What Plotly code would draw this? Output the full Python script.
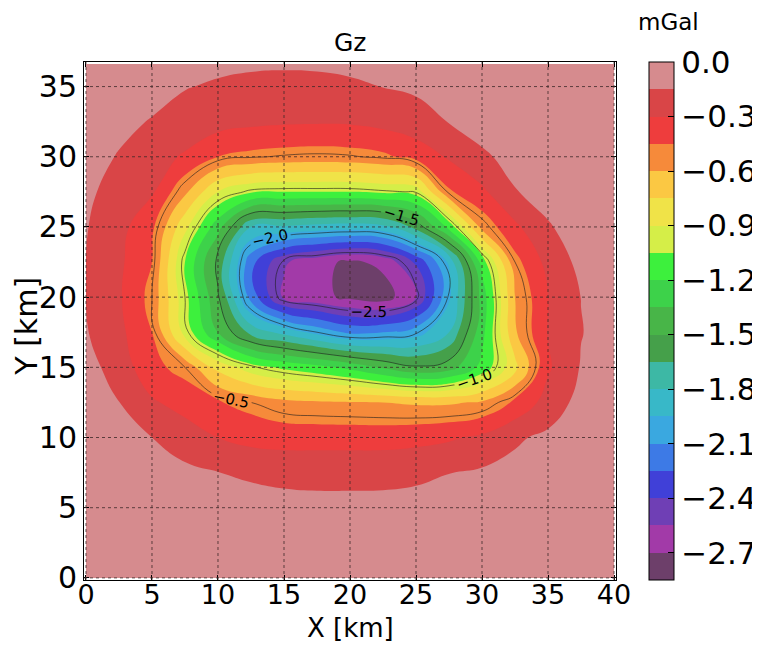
import plotly.graph_objects as go

# ---------------- data ----------------
x_km = [0, 2.5, 5, 7.5, 10, 12.5, 15, 17.5, 20, 22.5, 25, 27.5, 30, 32.5, 35, 37.5, 40]
y_km = [0, 2.5, 5, 7.5, 10, 12.5, 15, 17.5, 20, 22.5, 25, 27.5, 30, 32.5, 35, 36.6]

gz_y00 = [-0.03, -0.035, -0.04, -0.05, -0.055, -0.06, -0.065, -0.065, -0.065, -0.065, -0.06, -0.055, -0.05, -0.045, -0.04, -0.035, -0.03]
gz_y02 = [-0.04, -0.045, -0.055, -0.065, -0.075, -0.085, -0.09, -0.095, -0.095, -0.09, -0.085, -0.08, -0.07, -0.06, -0.05, -0.045, -0.04]
gz_y05 = [-0.05, -0.06, -0.07, -0.085, -0.10, -0.11, -0.12, -0.125, -0.125, -0.125, -0.12, -0.11, -0.10, -0.08, -0.07, -0.06, -0.05]
gz_y07 = [-0.06, -0.08, -0.10, -0.12, -0.148, -0.165, -0.175, -0.177, -0.177, -0.175, -0.168, -0.152, -0.13, -0.11, -0.09, -0.07, -0.05]
gz_y10 = [-0.07, -0.10, -0.15, -0.22, -0.30, -0.35, -0.37, -0.37, -0.37, -0.37, -0.35, -0.32, -0.27, -0.17, -0.12, -0.08, -0.06]
gz_y12 = [-0.09, -0.148, -0.28, -0.36, -0.44, -0.50, -0.56, -0.58, -0.59, -0.60, -0.62, -0.62, -0.58, -0.42, -0.24, -0.10, -0.07]
gz_y15 = [-0.10, -0.21, -0.41, -0.50, -0.80, -0.98, -1.08, -1.15, -1.24, -1.37, -1.48, -1.42, -1.15, -0.80, -0.32, -0.14, -0.08]
gz_y17 = [-0.14, -0.26, -0.45, -0.96, -1.35, -1.70, -1.85, -2.00, -2.13, -2.10, -2.02, -1.80, -1.25, -0.62, -0.29, -0.155, -0.09]
gz_y20 = [-0.152, -0.28, -0.50, -1.00, -1.48, -2.16, -2.58, -2.66, -2.73, -2.78, -2.55, -1.98, -1.29, -0.60, -0.30, -0.148, -0.08]
gz_y22 = [-0.152, -0.27, -0.45, -1.06, -1.55, -2.20, -2.53, -2.65, -2.73, -2.66, -2.38, -1.92, -1.14, -0.50, -0.25, -0.11, -0.07]
gz_y25 = [-0.142, -0.246, -0.42, -0.86, -1.29, -1.80, -1.82, -1.86, -1.88, -1.85, -1.60, -1.15, -0.55, -0.33, -0.16, -0.10, -0.07]
gz_y27 = [-0.13, -0.19, -0.28, -0.57, -0.90, -1.03, -1.05, -1.05, -1.05, -1.02, -0.99, -0.47, -0.33, -0.155, -0.11, -0.08, -0.065]
gz_y30 = [-0.12, -0.155, -0.23, -0.32, -0.45, -0.49, -0.51, -0.52, -0.51, -0.48, -0.40, -0.28, -0.165, -0.12, -0.09, -0.07, -0.06]
gz_y32 = [-0.10, -0.13, -0.155, -0.19, -0.235, -0.265, -0.28, -0.285, -0.28, -0.25, -0.20, -0.145, -0.11, -0.09, -0.07, -0.06, -0.05]
gz_y35 = [-0.08, -0.10, -0.12, -0.145, -0.162, -0.172, -0.176, -0.174, -0.165, -0.148, -0.13, -0.12, -0.10, -0.09, -0.07, -0.06, -0.05]
gz_y36 = [-0.07, -0.08, -0.095, -0.115, -0.13, -0.138, -0.14, -0.138, -0.13, -0.12, -0.11, -0.10, -0.09, -0.08, -0.07, -0.05, -0.04]

gz_rows = [gz_y00, gz_y02, gz_y05, gz_y07, gz_y10, gz_y12, gz_y15, gz_y17,
           gz_y20, gz_y22, gz_y25, gz_y27, gz_y30, gz_y32, gz_y35, gz_y36]

# band colours, lowest band first (19 bands of 0.15 mGal from -2.85 to 0)
band_colors = ["#6d3f6a", "#a23aa8", "#6f3fb5", "#4040d8", "#3d7ae6", "#3aa8e0",
               "#38b8c8", "#3db8a5", "#45a04a", "#48b548", "#3dd24a", "#3df03d",
               "#d5ee48", "#f0e348", "#fbc843", "#f68a3a", "#ee3d3d", "#d94547",
               "#d68b8e"]
band_min, band_max, band_step = -2.85, 0.0, 0.15
line_levels = [-2.5, -2.0, -1.5, -1.0, -0.5]

cbar_ticks = [0.0, -0.3, -0.6, -0.9, -1.2, -1.5, -1.8, -2.1, -2.4, -2.7]
cbar_text = ["0.0", "\u22120.3", "\u22120.6", "\u22120.9", "\u22121.2",
             "\u22121.5", "\u22121.8", "\u22122.1", "\u22122.4", "\u22122.7"]
x_ticks = [0, 5, 10, 15, 20, 25, 30, 35, 40]
y_ticks = [0, 5, 10, 15, 20, 25, 30, 35]

# ---------------- figure ----------------
FONT = "DejaVu Sans"
n = len(band_colors)
fill_scale = [[i / (n - 1), c] for i, c in enumerate(band_colors)]
step_scale = []
for i, c in enumerate(band_colors):
    step_scale.append([i / n, c])
    step_scale.append([(i + 1) / n, c])

fig = go.Figure()

# invisible carrier of the discrete colour bar
fig.add_trace(go.Heatmap(
    z=[[band_min, band_max]], zmin=band_min, zmax=band_max,
    colorscale=step_scale, opacity=0, hoverinfo="skip",
    colorbar=dict(
        x=1.062, xanchor="left", xpad=0, ypad=0,
        y=0.5, yanchor="middle", len=1, lenmode="fraction",
        thickness=25, outlinewidth=1, outlinecolor="black",
        tickvals=cbar_ticks, ticktext=cbar_text,
        ticks="inside", ticklen=6, tickcolor="black",
        tickfont=dict(family=FONT, size=31, color="black"),
    ),
))

fig.add_trace(go.Contour(
    x=x_km, y=y_km, z=gz_rows,
    colorscale=fill_scale,
    contours=dict(start=band_min + band_step, end=band_max - band_step,
                  size=band_step, coloring="fill", showlines=False),
    line=dict(width=0, smoothing=1.3),
    showscale=False, hoverinfo="skip",
))

fig.add_trace(go.Contour(
    x=x_km, y=y_km, z=gz_rows,
    contours=dict(start=min(line_levels), end=max(line_levels),
                  size=line_levels[1] - line_levels[0], coloring="none",
                  showlabels=True,
                  labelfont=dict(family=FONT, size=15, color="black"),
                  labelformat=".1f"),
    line=dict(color="rgba(30,30,30,0.6)", width=1, smoothing=1.3),
    showscale=False, hoverinfo="skip",
))

shapes = []
for v in x_ticks:
    shapes.append(dict(type="line", xref="x", yref="paper", x0=v, x1=v, y0=0, y1=1,
                       layer="above", line=dict(color="rgba(60,40,40,0.8)", width=1, dash="dot")))
for v in y_ticks:
    shapes.append(dict(type="line", xref="paper", yref="y", x0=0, x1=1, y0=v, y1=v,
                       layer="above", line=dict(color="rgba(60,40,40,0.8)", width=1, dash="dot")))

axis_common = dict(showline=True, linecolor="black", linewidth=1, mirror="ticks",
                   ticks="inside", ticklen=5, tickcolor="black", showgrid=False,
                   zeroline=False, automargin=False)

fig.update_layout(
    width=760, height=646,
    margin=dict(l=76, r=152, t=54, b=74, autoexpand=False),
    paper_bgcolor="white", plot_bgcolor="white",
    font=dict(family=FONT, color="black"),
    showlegend=False,
    xaxis=dict(range=[-0.15, 40.15], tickvals=x_ticks, ticklabelstandoff=-9,
               tickfont=dict(family=FONT, size=27, color="black"), **axis_common),
    yaxis=dict(range=[-0.15, 36.75], tickvals=y_ticks,
               tickfont=dict(family=FONT, size=30, color="black"), **axis_common),
    shapes=shapes,
    annotations=[
        dict(text="Gz", xref="paper", yref="paper", x=0.5, y=1.0386,
             xanchor="center", yanchor="middle", showarrow=False,
             font=dict(family=FONT, size=25, color="black")),
        dict(text="mGal", xref="paper", yref="paper", x=1.098, y=1.077,
             xanchor="center", yanchor="middle", showarrow=False,
             font=dict(family=FONT, size=23, color="black")),
        dict(text="X [km]", xref="paper", yref="paper", x=0.5, y=-0.1255,
             xanchor="center", yanchor="bottom", showarrow=False,
             font=dict(family=FONT, size=26, color="black")),
        dict(text="Y [km]", xref="paper", yref="paper", x=-0.108, y=0.49,
             xanchor="center", yanchor="middle", showarrow=False, textangle=-90,
             font=dict(family=FONT, size=30, color="black")),
    ],
)

fig.write_html("out.html")
